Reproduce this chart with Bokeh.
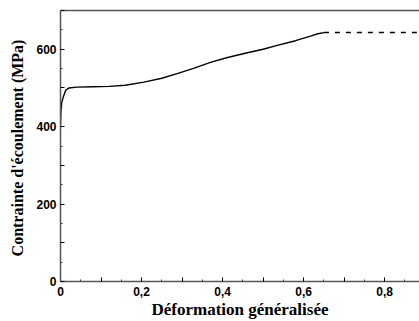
from bokeh.plotting import figure
from bokeh.models import LinearAxis, FixedTicker, Range1d
from bokeh.embed import file_html
from bokeh.resources import INLINE

# Data
strain = [0, 0.001, 0.003, 0.007, 0.013, 0.021, 0.04, 0.08, 0.12, 0.16, 0.206,
          0.25, 0.288, 0.33, 0.37, 0.41, 0.453, 0.5, 0.535, 0.58, 0.617, 0.635, 0.65]
stress = [405, 440, 462, 477, 494, 500, 502, 503, 504, 507, 515,
          525, 537, 551, 566, 578, 589, 600, 610, 622, 634, 640, 643]
plateau_strain = [0.65, 0.886]
plateau_stress = [643, 643]

x_ticks = [0, 0.1, 0.2, 0.3, 0.4, 0.5, 0.6, 0.7, 0.8]
x_minor = [0.05, 0.15, 0.25, 0.35, 0.45, 0.55, 0.65, 0.75, 0.85]
x_labels = {0: "0", 0.1: "", 0.2: "0,2", 0.3: "", 0.4: "0,4", 0.5: "", 0.6: "0,6", 0.7: "", 0.8: "0,8"}
y_ticks = [0, 100, 200, 300, 400, 500, 600, 700]
y_minor = [50, 150, 250, 350, 450, 550, 650]
y_labels = {0: "0", 100: "", 200: "200", 300: "", 400: "400", 500: "", 600: "600", 700: ""}

p = figure(width=419, height=321, output_backend="svg", toolbar_location=None,
           x_range=Range1d(0, 0.886), y_range=Range1d(0, 700),
           min_border_left=60, min_border_top=10, min_border_right=0, min_border_bottom=40)
p.outline_line_color = None
p.grid.grid_line_color = None
p.background_fill_color = "white"
p.border_fill_color = "white"

p.line(strain, stress, line_color="black", line_width=1.4)
p.line(plateau_strain, plateau_stress, line_color="black", line_width=1.4, line_dash="5 6")

ax_color = "#555555"
for ax in p.xaxis:
    ax.ticker = FixedTicker(ticks=x_ticks, minor_ticks=x_minor)
    ax.major_label_overrides = x_labels
    ax.axis_label = "Déformation généralisée"
for ax in p.yaxis:
    ax.ticker = FixedTicker(ticks=y_ticks, minor_ticks=y_minor)
    ax.major_label_overrides = y_labels
    ax.axis_label = "Contrainte d'écoulement  (MPa)"

for ax in p.xaxis + p.yaxis:
    ax.axis_line_color = ax_color
    ax.axis_line_width = 1.5
    ax.major_tick_in = 4
    ax.major_tick_out = 0
    ax.minor_tick_in = 2
    ax.minor_tick_out = 0
    ax.major_tick_line_color = "black"
    ax.minor_tick_line_color = "#444444"
    ax.major_label_text_font = "Liberation Sans"
    ax.major_label_text_font_style = "bold"
    ax.major_label_text_font_size = "12px"
    ax.major_label_text_color = "black"
    ax.axis_label_text_font = "Liberation Serif"
    ax.axis_label_text_font_style = "bold"
    ax.axis_label_text_color = "black"

p.xaxis.axis_label_text_font_size = "17px"
p.yaxis.axis_label_text_font_size = "16px"
p.xaxis.major_label_standoff = 5
p.xaxis.axis_label_standoff = 1
p.yaxis.major_label_standoff = 4
p.yaxis.axis_label_standoff = 7

top = LinearAxis(ticker=FixedTicker(ticks=[]), major_label_text_font_size="0px",
                 axis_line_color=ax_color, axis_line_width=1.5)
p.add_layout(top, "above")

open("out.html", "w").write(file_html(p, INLINE))
